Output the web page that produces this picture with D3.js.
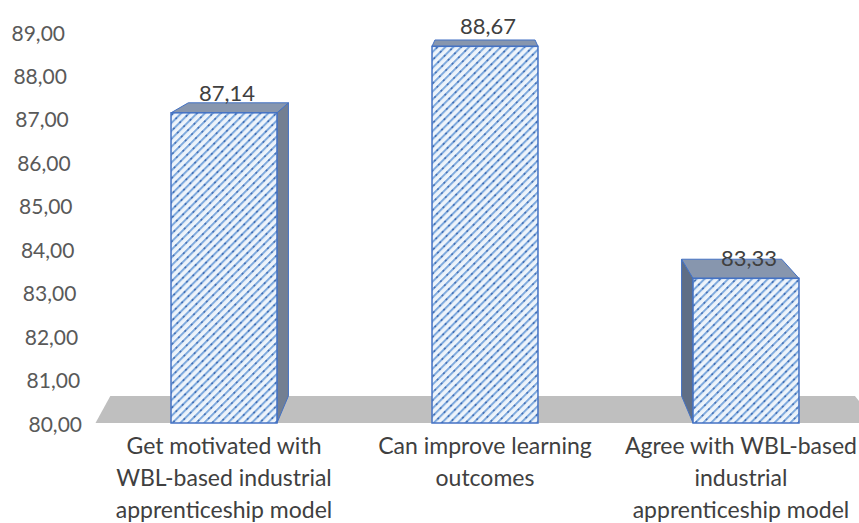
<!DOCTYPE html>
<html>
<head>
<meta charset="utf-8">
<script src="https://cdn.jsdelivr.net/npm/d3@7"></script>
<style>
  body { margin: 0; background: #ffffff; }
  text { font-family: Lato, "Open Sans", sans-serif; }
</style>
</head>
<body>
<script>
const categories = [
  ["Get motivated with", "WBL-based industrial", "apprenticeship model"],
  ["Can improve learning", "outcomes"],
  ["Agree with WBL-based", "industrial", "apprenticeship model"]
];
const values = [87.14, 88.67, 83.33];
const valueLabels = ["87,14", "88,67", "83,33"];
const tickValues = [80, 81, 82, 83, 84, 85, 86, 87, 88, 89];

const width = 859;
const height = 523;

// perspective: vanishing point and depth factor for the back plane
const vp = [485, -69];
const depth = 0.945;
const back = p => [vp[0] + depth * (p[0] - vp[0]), vp[1] + depth * (p[1] - vp[1])];

const svg = d3.select("body").append("svg")
    .attr("width", width)
    .attr("height", height);

const x = d3.scalePoint()
    .domain(d3.range(categories.length))
    .range([93.5, 876.5])
    .padding(0.5);
const barWidth = x.step() * 0.406;

const y = d3.scaleLinear()
    .domain([80, 89])
    .range([423, 32]);

// tick labels drift right going down (perspective of the axis)
const tickX = d3.scaleLinear()
    .domain([80, 89])
    .range([82, 65]);

// hatch pattern for front faces
const defs = svg.append("defs");
const pat = defs.append("pattern")
    .attr("id", "hatch")
    .attr("patternUnits", "userSpaceOnUse")
    .attr("width", 5.6)
    .attr("height", 9)
    .attr("patternTransform", "rotate(45)");
pat.append("rect").attr("width", 5.6).attr("height", 9).attr("fill", "#eef4fb");
pat.append("rect").attr("x", 0).attr("width", 2).attr("height", 9).attr("fill", "#7ea9dd");
pat.append("circle").attr("cx", 1).attr("cy", 4).attr("r", 0.9).attr("fill", "#2f5da8");

const poly = pts => "M" + pts.map(p => p.join(",")).join("L") + "Z";

// floor
const [fx0, fx1] = x.range();
const fy = y(80);
svg.append("path")
    .attr("d", poly([[fx0 + 2, fy], [fx1, fy], back([fx1, fy]), back([fx0 - 5, fy])]))
    .attr("fill", "#bfbfbf");

// y axis labels
svg.append("g").selectAll("text")
    .data(tickValues)
  .join("text")
    .attr("x", d => tickX(d))
    .attr("y", d => y(d))
    .attr("text-anchor", "end")
    .attr("dominant-baseline", "central")
    .attr("font-size", 21)
    .attr("fill", "#595959")
    .text(d => d3.format(".2f")(d).replace(".", ","));

// bars
const bars = svg.append("g");
values.forEach((v, i) => {
  const cx = x(i);
  const l = cx - barWidth / 2, r = cx + barWidth / 2;
  const t = y(v), b = y(80);
  const g = bars.append("g");

  // side face
  if (r < vp[0]) {
    g.append("path")
        .attr("d", poly([[r, t], back([r, t]), back([r, b]), [r, b]]))
        .attr("fill", "#737f92").attr("stroke", "#4472c4").attr("stroke-width", 1);
  } else if (l > vp[0]) {
    g.append("path")
        .attr("d", poly([[l, t], back([l, t]), back([l, b]), [l, b]]))
        .attr("fill", "#5f6e86").attr("stroke", "#4472c4").attr("stroke-width", 1);
  }
  // top face
  g.append("path")
      .attr("d", poly([[l, t], [r, t], back([r, t]), back([l, t])]))
      .attr("fill", "#8796ae").attr("stroke", "#4472c4").attr("stroke-width", 1);
  // front face
  g.append("rect")
      .attr("x", l).attr("y", t)
      .attr("width", barWidth).attr("height", b - t)
      .attr("fill", "url(#hatch)")
      .attr("stroke", "#4472c4").attr("stroke-width", 1.5);

  g.append("text")
      .attr("x", cx + 3)
      .attr("y", t - 12)
      .attr("text-anchor", "middle")
      .attr("font-size", 22)
      .attr("fill", "#404040")
      .text(valueLabels[i]);
});

// category labels, kept inside the right edge
const cats = svg.append("g");
categories.forEach((lines, i) => {
  const txt = cats.append("text")
      .attr("text-anchor", "middle")
      .attr("font-size", 23)
      .attr("fill", "#404040");
  const spans = lines.map((line, j) => txt.append("tspan")
      .attr("x", x(i))
      .attr("y", 454 + j * 32)
      .text(line));
  const w = d3.max(spans, s => s.node().getComputedTextLength());
  const cx = Math.min(x(i), width - 2 - w / 2);
  spans.forEach(s => s.attr("x", cx));
});
</script>
</body>
</html>
